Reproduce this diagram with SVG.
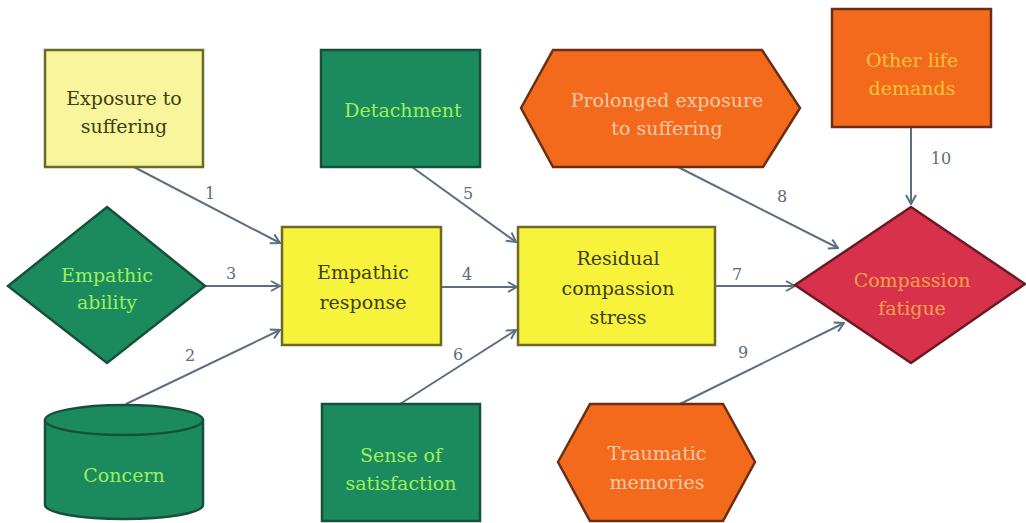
<svg xmlns="http://www.w3.org/2000/svg" width="1026" height="523" viewBox="0 0 1026 523">
<style>
text{font-family:"DejaVu Serif",serif;font-size:19px;text-anchor:middle}
.yl{fill:#3e3e12}
.gn{fill:#9cf05a}
.or{fill:#f9c9a6}
.ly{fill:#f6c23a}
.cf{fill:#f7a24a}
.lbl{fill:#5d6a78;font-size:16px}
.cn{stroke:#5b6f80;stroke-width:2;fill:none;marker-end:url(#ah)}
.bY{stroke:#6b6a2a;stroke-width:2.5}
.bG{fill:#1b8b5f;stroke:#17503a;stroke-width:2.5}
.bO{fill:#f46a1c;stroke:#6b2e12;stroke-width:2.5}
</style>
<defs>
<marker id="ah" viewBox="0 0 12 12" refX="11" refY="6" markerWidth="12" markerHeight="12" markerUnits="userSpaceOnUse" orient="auto">
<path d="M2,1 L11,6 L2,11" fill="none" stroke="#5b6f80" stroke-width="2"/>
</marker>
</defs>
<rect width="1026" height="523" fill="#ffffff"/>
<g id="connectors">
<line class="cn" x1="134" y1="167" x2="280" y2="243"/>
<line class="cn" x1="205" y1="286" x2="280" y2="286"/>
<line class="cn" x1="126" y1="404" x2="280" y2="330"/>
<line class="cn" x1="441" y1="287" x2="517" y2="287"/>
<line class="cn" x1="412" y1="167" x2="516" y2="242"/>
<line class="cn" x1="400" y1="404" x2="516" y2="330"/>
<line class="cn" x1="715" y1="286" x2="795" y2="286"/>
<line class="cn" x1="678" y1="167" x2="838" y2="248"/>
<line class="cn" x1="680" y1="404" x2="844" y2="323"/>
<line class="cn" x1="911" y1="127" x2="911" y2="204"/>
<text class="lbl" x="210" y="199">1</text>
<text class="lbl" x="190" y="361">2</text>
<text class="lbl" x="231" y="279">3</text>
<text class="lbl" x="467" y="280">4</text>
<text class="lbl" x="468" y="199">5</text>
<text class="lbl" x="458" y="360">6</text>
<text class="lbl" x="737" y="280">7</text>
<text class="lbl" x="782" y="202">8</text>
<text class="lbl" x="743" y="358">9</text>
<text class="lbl" x="941" y="164">10</text>
</g>
<g id="exposure">
<rect class="bY" x="45" y="50" width="158" height="117" fill="#f9f59c"/>
<text class="yl" x="124" y="105">Exposure to</text>
<text class="yl" x="124" y="133">suffering</text>
</g>
<g id="empathic-ability">
<polygon class="bG" points="107,207 205,286 107,363 8,286"/>
<text class="gn" x="107" y="282">Empathic</text>
<text class="gn" x="107" y="309">ability</text>
</g>
<g id="concern">
<path class="bG" d="M45,420 L45,505 A79,14 0 0 0 203,505 L203,420"/>
<ellipse class="bG" cx="124" cy="420" rx="79" ry="15"/>
<text class="gn" x="124" y="482">Concern</text>
</g>
<g id="empathic-response">
<rect class="bY" x="282" y="227" width="159" height="118" fill="#f7f33a"/>
<text class="yl" x="363" y="279">Empathic</text>
<text class="yl" x="363" y="309">response</text>
</g>
<g id="detachment">
<rect class="bG" x="321" y="50" width="159" height="117"/>
<text class="gn" x="403" y="117">Detachment</text>
</g>
<g id="residual">
<rect class="bY" x="518" y="227" width="197" height="118" fill="#f7f33a"/>
<text class="yl" x="618" y="265">Residual</text>
<text class="yl" x="618" y="295">compassion</text>
<text class="yl" x="618" y="324">stress</text>
</g>
<g id="satisfaction">
<rect class="bG" x="322" y="404" width="158" height="117"/>
<text class="gn" x="401" y="462">Sense of</text>
<text class="gn" x="401" y="490">satisfaction</text>
</g>
<g id="prolonged">
<polygon class="bO" points="521,108 553,50 762,50 800,108 763,167 553,167"/>
<text class="or" x="667" y="107">Prolonged exposure</text>
<text class="or" x="667" y="135">to suffering</text>
</g>
<g id="other-life">
<rect class="bO" x="832" y="9" width="159" height="118"/>
<text class="ly" x="912" y="67">Other life</text>
<text class="ly" x="912" y="95">demands</text>
</g>
<g id="traumatic">
<polygon class="bO" points="558,462 590,404 723,404 755,462 723,521 590,521"/>
<text class="or" x="657" y="460">Traumatic</text>
<text class="or" x="657" y="489">memories</text>
</g>
<g id="compassion-fatigue">
<polygon points="911,207 1025,284 911,363 795,285" fill="#d7314b" stroke="#6b1a22" stroke-width="2.5"/>
<text class="cf" x="912" y="287">Compassion</text>
<text class="cf" x="912" y="315">fatigue</text>
</g>
</svg>
